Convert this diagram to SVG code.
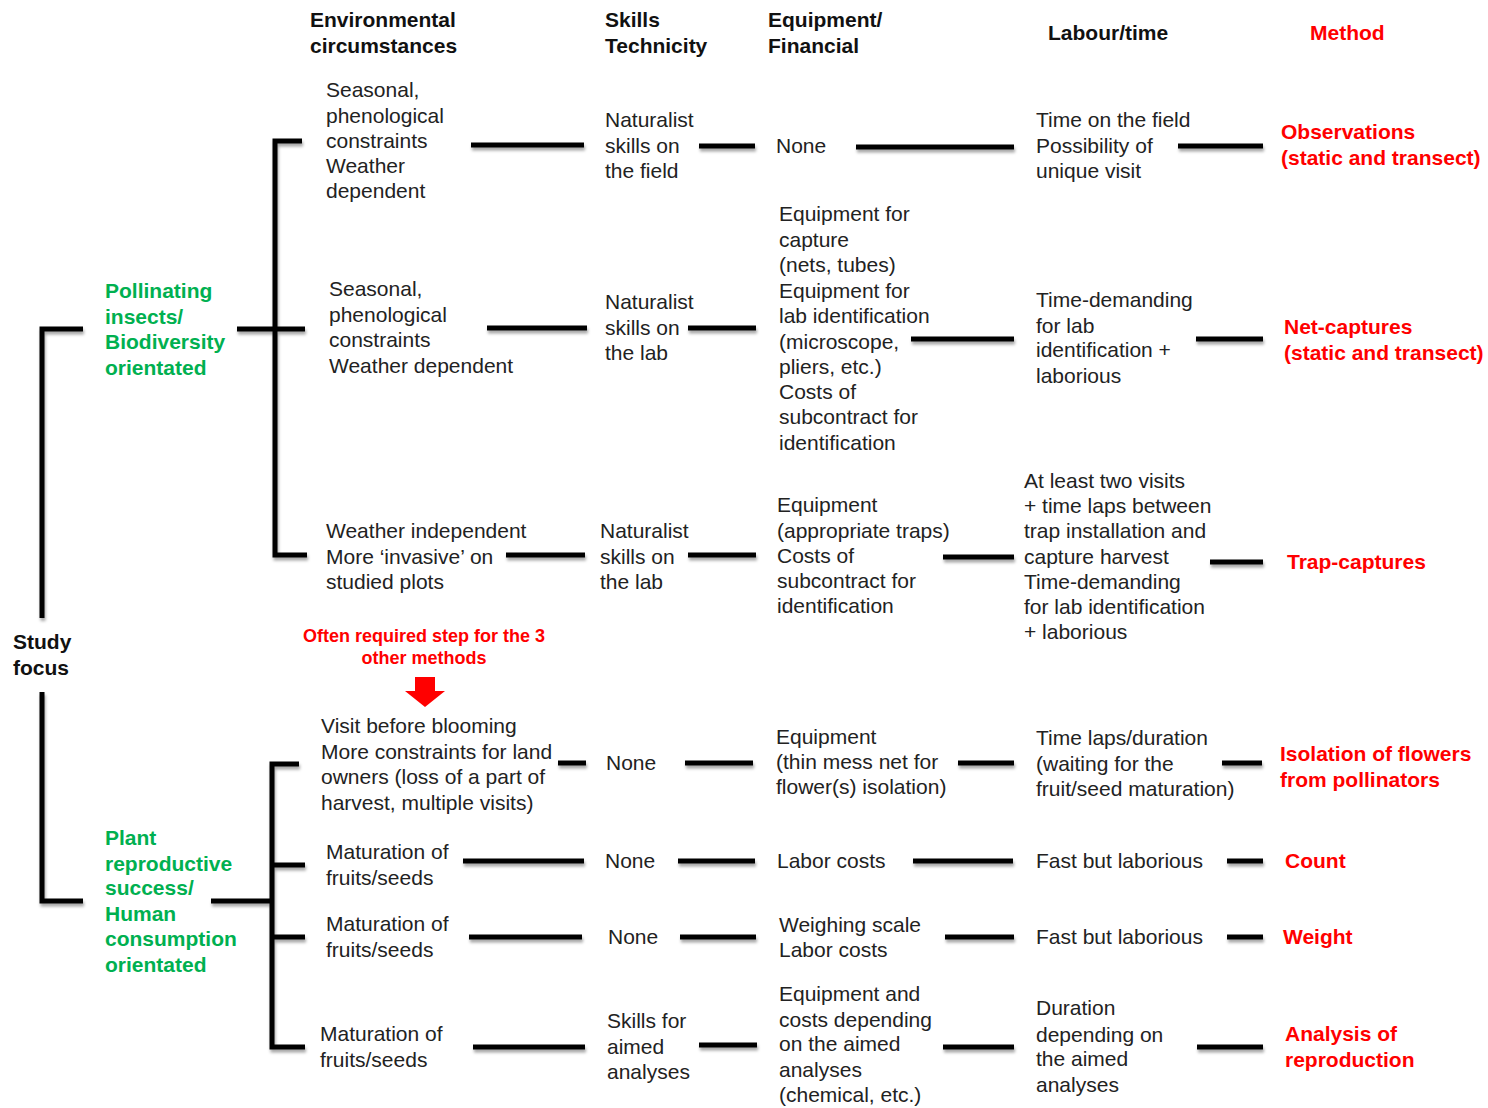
<svg xmlns="http://www.w3.org/2000/svg" width="1488" height="1108" viewBox="0 0 1488 1108">
<defs>
<style>
text{font-family:"Liberation Sans",Arial,sans-serif}
.t{font-size:21px;fill:#222}
.h{font-size:21px;font-weight:bold;fill:#111}
.g{font-size:21px;font-weight:bold;fill:#00B050}
.m{font-size:21px;font-weight:bold;fill:#FF0000}
.n{font-size:18px;font-weight:bold;fill:#FF0000}
.c{stroke:#000;stroke-width:5;fill:none;stroke-linecap:butt}
</style>
<filter id="sh" filterUnits="userSpaceOnUse" x="0" y="0" width="1488" height="1108">
<feDropShadow dx="1" dy="3" stdDeviation="1.5" flood-color="#000" flood-opacity="0.35"/>
</filter>
</defs>
<rect width="1488" height="1108" fill="#fff"/>

<g id="connectors" filter="url(#sh)">
<!-- study focus bracket -->
<path class="c" d="M83,329 H42 V618"/>
<path class="c" d="M42,692 V901 H83"/>
<!-- pollinating bracket -->
<path class="c" d="M302,141 H275 V555 H307"/>
<path class="c" d="M237,329 H305"/>
<!-- plant bracket -->
<path class="c" d="M299,764 H272 V1047 H305"/>
<path class="c" d="M272,865 H305"/>
<path class="c" d="M272,937 H305"/>
<path class="c" d="M211,901 H272"/>
<!-- row 1 -->
<path class="c" d="M471,145 H584"/>
<path class="c" d="M699,146 H755"/>
<path class="c" d="M856,147 H1014"/>
<path class="c" d="M1178,146 H1263"/>
<!-- row 2 -->
<path class="c" d="M487,328 H587"/>
<path class="c" d="M688,328 H756"/>
<path class="c" d="M911,339 H1014"/>
<path class="c" d="M1196,339 H1263"/>
<!-- row 3 -->
<path class="c" d="M506,555 H585"/>
<path class="c" d="M688,555 H756"/>
<path class="c" d="M943,557 H1014"/>
<path class="c" d="M1210,562 H1263"/>
<!-- row 4 -->
<path class="c" d="M558,763 H586"/>
<path class="c" d="M685,763 H753"/>
<path class="c" d="M958,763 H1014"/>
<path class="c" d="M1222,763 H1262"/>
<!-- row 5 -->
<path class="c" d="M463,861 H584"/>
<path class="c" d="M678,861 H755"/>
<path class="c" d="M913,861 H1013"/>
<path class="c" d="M1227,861 H1263"/>
<!-- row 6 -->
<path class="c" d="M469,937 H582"/>
<path class="c" d="M680,937 H756"/>
<path class="c" d="M945,937 H1014"/>
<path class="c" d="M1227,937 H1263"/>
<!-- row 7 -->
<path class="c" d="M473,1047 H585"/>
<path class="c" d="M699,1045 H757"/>
<path class="c" d="M943,1047 H1014"/>
<path class="c" d="M1197,1047 H1263"/>
</g>
<g id="arrow">
<path d="M415,677 H435 V691 H445 L425,707 L405,691 H415 Z" fill="#FF0000"/>
</g>

<g id="headers">
<text class="h" x="310" y="27">Environmental</text>
<text class="h" x="310" y="53">circumstances</text>
<text class="h" x="605" y="27">Skills</text>
<text class="h" x="605" y="53">Technicity</text>
<text class="h" x="768" y="27">Equipment/</text>
<text class="h" x="768" y="53">Financial</text>
<text class="h" x="1048" y="40">Labour/time</text>
<text class="m" x="1310" y="40">Method</text>
</g>

<g id="study-focus">
<text class="h" x="13" y="649">Study</text>
<text class="h" x="13" y="675">focus</text>
</g>

<g id="pollinating">
<text class="g" x="105" y="298">Pollinating</text>
<text class="g" x="105" y="324">insects/</text>
<text class="g" x="105" y="349">Biodiversity</text>
<text class="g" x="105" y="375">orientated</text>
</g>

<g id="plant">
<text class="g" x="105" y="845">Plant</text>
<text class="g" x="105" y="871">reproductive</text>
<text class="g" x="105" y="895">success/</text>
<text class="g" x="105" y="921">Human</text>
<text class="g" x="105" y="946">consumption</text>
<text class="g" x="105" y="972">orientated</text>
</g>

<!-- Row 1 -->
<g id="r1-env">
<text class="t" x="326" y="97">Seasonal,</text>
<text class="t" x="326" y="123">phenological</text>
<text class="t" x="326" y="148">constraints</text>
<text class="t" x="326" y="173">Weather</text>
<text class="t" x="326" y="198">dependent</text>
</g>
<g id="r1-skills">
<text class="t" x="605" y="127">Naturalist</text>
<text class="t" x="605" y="153">skills on</text>
<text class="t" x="605" y="178">the field</text>
</g>
<g id="r1-equip"><text class="t" x="776" y="153">None</text></g>
<g id="r1-labour">
<text class="t" x="1036" y="127">Time on the field</text>
<text class="t" x="1036" y="153">Possibility of</text>
<text class="t" x="1036" y="178">unique visit</text>
</g>
<g id="r1-method">
<text class="m" x="1281" y="139">Observations</text>
<text class="m" x="1281" y="165">(static and transect)</text>
</g>

<!-- Row 2 -->
<g id="r2-env">
<text class="t" x="329" y="296">Seasonal,</text>
<text class="t" x="329" y="322">phenological</text>
<text class="t" x="329" y="347">constraints</text>
<text class="t" x="329" y="373">Weather dependent</text>
</g>
<g id="r2-skills">
<text class="t" x="605" y="309">Naturalist</text>
<text class="t" x="605" y="335">skills on</text>
<text class="t" x="605" y="360">the lab</text>
</g>
<g id="r2-equip">
<text class="t" x="779" y="221">Equipment for</text>
<text class="t" x="779" y="247">capture</text>
<text class="t" x="779" y="272">(nets, tubes)</text>
<text class="t" x="779" y="298">Equipment for</text>
<text class="t" x="779" y="323">lab identification</text>
<text class="t" x="779" y="349">(microscope,</text>
<text class="t" x="779" y="374">pliers, etc.)</text>
<text class="t" x="779" y="399">Costs of</text>
<text class="t" x="779" y="424">subcontract for</text>
<text class="t" x="779" y="450">identification</text>
</g>
<g id="r2-labour">
<text class="t" x="1036" y="307">Time-demanding</text>
<text class="t" x="1036" y="333">for lab</text>
<text class="t" x="1036" y="357">identification +</text>
<text class="t" x="1036" y="383">laborious</text>
</g>
<g id="r2-method">
<text class="m" x="1284" y="334">Net-captures</text>
<text class="m" x="1284" y="360">(static and transect)</text>
</g>

<!-- Row 3 -->
<g id="r3-env">
<text class="t" x="326" y="538">Weather independent</text>
<text class="t" x="326" y="564">More ‘invasive’ on</text>
<text class="t" x="326" y="589">studied plots</text>
</g>
<g id="r3-skills">
<text class="t" x="600" y="538">Naturalist</text>
<text class="t" x="600" y="564">skills on</text>
<text class="t" x="600" y="589">the lab</text>
</g>
<g id="r3-equip">
<text class="t" x="777" y="512">Equipment</text>
<text class="t" x="777" y="538">(appropriate traps)</text>
<text class="t" x="777" y="563">Costs of</text>
<text class="t" x="777" y="588">subcontract for</text>
<text class="t" x="777" y="613">identification</text>
</g>
<g id="r3-labour">
<text class="t" x="1024" y="488">At least two visits</text>
<text class="t" x="1024" y="513">+ time laps between</text>
<text class="t" x="1024" y="538">trap installation and</text>
<text class="t" x="1024" y="564">capture harvest</text>
<text class="t" x="1024" y="589">Time-demanding</text>
<text class="t" x="1024" y="614">for lab identification</text>
<text class="t" x="1024" y="639">+ laborious</text>
</g>
<g id="r3-method"><text class="m" x="1287" y="569">Trap-captures</text></g>

<g id="note">
<text class="n" x="424" y="642" text-anchor="middle">Often required step for the 3</text>
<text class="n" x="424" y="664" text-anchor="middle">other methods</text>
</g>

<!-- Row 4 -->
<g id="r4-env">
<text class="t" x="321" y="733">Visit before blooming</text>
<text class="t" x="321" y="759">More constraints for land</text>
<text class="t" x="321" y="784">owners (loss of a part of</text>
<text class="t" x="321" y="810">harvest, multiple visits)</text>
</g>
<g id="r4-skills"><text class="t" x="606" y="770">None</text></g>
<g id="r4-equip">
<text class="t" x="776" y="744">Equipment</text>
<text class="t" x="776" y="769">(thin mess net for</text>
<text class="t" x="776" y="794">flower(s) isolation)</text>
</g>
<g id="r4-labour">
<text class="t" x="1036" y="745">Time laps/duration</text>
<text class="t" x="1036" y="771">(waiting for the</text>
<text class="t" x="1036" y="796">fruit/seed maturation)</text>
</g>
<g id="r4-method">
<text class="m" x="1280" y="761">Isolation of flowers</text>
<text class="m" x="1280" y="787">from pollinators</text>
</g>

<!-- Row 5 -->
<g id="r5-env">
<text class="t" x="326" y="859">Maturation of</text>
<text class="t" x="326" y="885">fruits/seeds</text>
</g>
<g id="r5-skills"><text class="t" x="605" y="868">None</text></g>
<g id="r5-equip"><text class="t" x="777" y="868">Labor costs</text></g>
<g id="r5-labour"><text class="t" x="1036" y="868">Fast but laborious</text></g>
<g id="r5-method"><text class="m" x="1285" y="868">Count</text></g>

<!-- Row 6 -->
<g id="r6-env">
<text class="t" x="326" y="931">Maturation of</text>
<text class="t" x="326" y="957">fruits/seeds</text>
</g>
<g id="r6-skills"><text class="t" x="608" y="944">None</text></g>
<g id="r6-equip">
<text class="t" x="779" y="932">Weighing scale</text>
<text class="t" x="779" y="957">Labor costs</text>
</g>
<g id="r6-labour"><text class="t" x="1036" y="944">Fast but laborious</text></g>
<g id="r6-method"><text class="m" x="1283" y="944">Weight</text></g>

<!-- Row 7 -->
<g id="r7-env">
<text class="t" x="320" y="1041">Maturation of</text>
<text class="t" x="320" y="1067">fruits/seeds</text>
</g>
<g id="r7-skills">
<text class="t" x="607" y="1028">Skills for</text>
<text class="t" x="607" y="1054">aimed</text>
<text class="t" x="607" y="1079">analyses</text>
</g>
<g id="r7-equip">
<text class="t" x="779" y="1001">Equipment and</text>
<text class="t" x="779" y="1027">costs depending</text>
<text class="t" x="779" y="1051">on the aimed</text>
<text class="t" x="779" y="1077">analyses</text>
<text class="t" x="779" y="1102">(chemical, etc.)</text>
</g>
<g id="r7-labour">
<text class="t" x="1036" y="1015">Duration</text>
<text class="t" x="1036" y="1042">depending on</text>
<text class="t" x="1036" y="1066">the aimed</text>
<text class="t" x="1036" y="1092">analyses</text>
</g>
<g id="r7-method">
<text class="m" x="1285" y="1041">Analysis of</text>
<text class="m" x="1285" y="1067">reproduction</text>
</g>
</svg>
